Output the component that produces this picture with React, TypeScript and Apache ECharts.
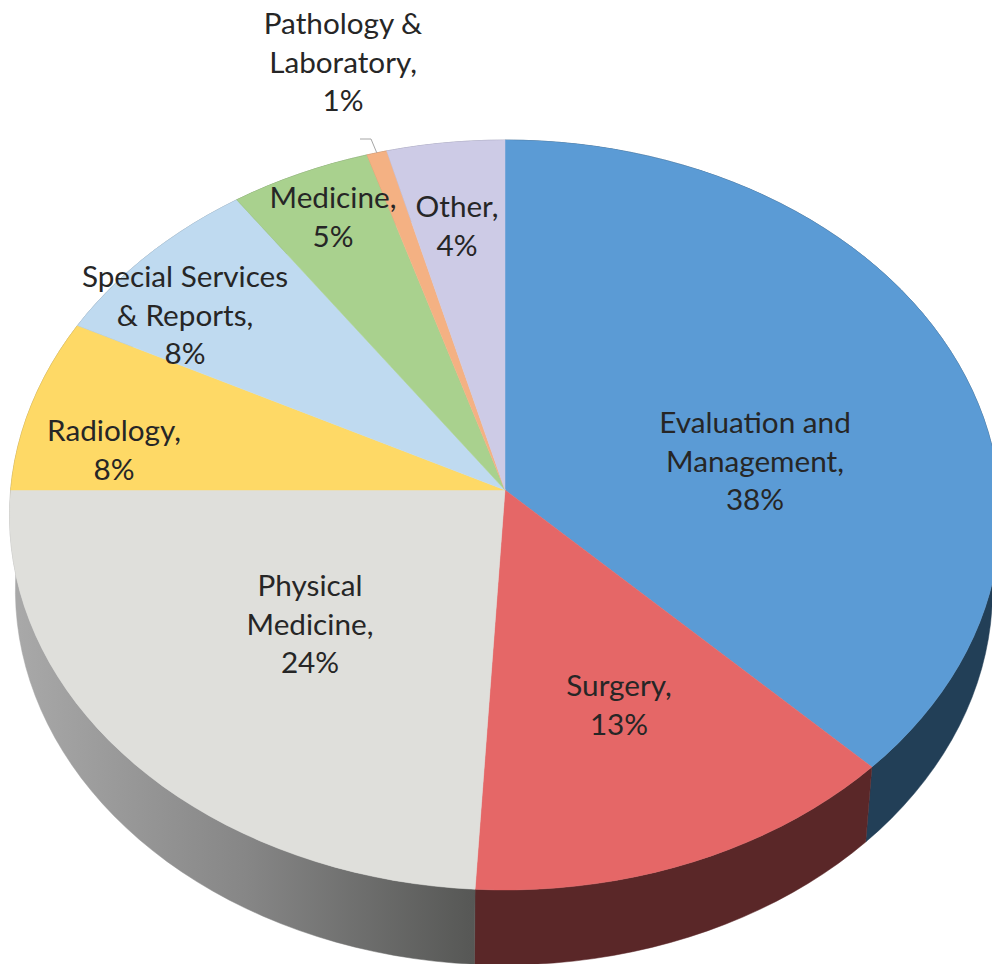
import React, { useEffect, useRef } from "react";
import * as echarts from "echarts";

// Data
const categories = [
  "Evaluation and\nManagement",
  "Surgery",
  "Physical\nMedicine",
  "Radiology",
  "Special Services\n& Reports",
  "Medicine",
  "Pathology &\nLaboratory",
  "Other",
];
const shares = [37.5, 13.4, 24.1, 7.5, 7.8, 4.9, 0.7, 4.1];

// Styles
const topColors = ["#5b9bd5", "#e56767", "#dfdfdb", "#fed966", "#bfdaf0", "#a9d18e", "#f4b183", "#cdcbe6"];
const wallColors = ["#223f57", "#5a2728", "#808080", "#8f7a3a", "#6f7f8c", "#5f7a4f", "#8a6448", "#77768a"];
const labelCenters = [
  [755, 460],
  [619, 704],
  [310, 623],
  [114, 449],
  [185, 314],
  [333, 216],
  [343, 61],
  [457, 225],
];

// Projection of the tilted disc
const APEX_X = 505;
const APEX_Y = 490;
const RX = 494.4;
const RY = 373.3;
const PERSPECTIVE = 1 / 15;
const DEPTH = 75;
const BASE_ORIGIN_X = 430;
const BASE_SCALE = 0.986;
const STEPS = 160;

function project(theta: number): [number, number] {
  const u = Math.sin(theta);
  const v = -Math.cos(theta);
  const d = 1 - PERSPECTIVE * v;
  return [APEX_X + (RX * u) / d, APEX_Y + (RY * v) / d];
}
function lower(p: [number, number]): [number, number] {
  return [BASE_ORIGIN_X + (p[0] - BASE_ORIGIN_X) * BASE_SCALE, p[1] + DEPTH];
}
function arc(a0: number, a1: number): [number, number][] {
  const n = Math.max(2, Math.ceil((STEPS * (a1 - a0)) / (2 * Math.PI)));
  const pts: [number, number][] = [];
  for (let i = 0; i <= n; i++) pts.push(project(a0 + ((a1 - a0) * i) / n));
  return pts;
}

const total = shares.reduce((a, b) => a + b, 0);
const sliceData: number[][] = [];
{
  let acc = 0;
  shares.forEach((s, i) => {
    sliceData.push([(acc / total) * 2 * Math.PI, ((acc + s) / total) * 2 * Math.PI, i]);
    acc += s;
  });
}

const LEADER_INDEX = 6;

export default function App() {
  const ref = useRef<HTMLDivElement>(null);
  useEffect(() => {
    const chart = echarts.init(ref.current!, undefined, { renderer: "svg" });
    const physicalWall = new echarts.graphic.LinearGradient(
      20, 0, 475, 0,
      [
        { offset: 0, color: "#a8a8a8" },
        { offset: 0.5, color: "#868686" },
        { offset: 1, color: "#565755" },
      ],
      true
    );
    const option: any = {
      animation: false,
      backgroundColor: "#ffffff",
      series: [
        {
          type: "custom",
          coordinateSystem: "none",
          z: 1,
          silent: true,
          data: sliceData,
          renderItem: (_p: any, api: any) => {
            const a0 = api.value(0);
            const a1 = api.value(1);
            const i = api.value(2);
            const top = arc(a0, a1);
            const bottom = top.map(lower).reverse();
            const fill = i === 2 ? physicalWall : wallColors[i];
            return {
              type: "polygon",
              shape: { points: [...top, ...bottom] },
              style: { fill, stroke: fill, lineWidth: 0.5 },
            };
          },
        },
        {
          type: "custom",
          coordinateSystem: "none",
          z: 2,
          silent: true,
          data: sliceData,
          renderItem: (_p: any, api: any) => {
            const a0 = api.value(0);
            const a1 = api.value(1);
            const i = api.value(2);
            return {
              type: "polygon",
              shape: { points: [[APEX_X, APEX_Y], ...arc(a0, a1)] },
              style: { fill: topColors[i], stroke: topColors[i], lineWidth: 0.5 },
            };
          },
        },
        {
          type: "custom",
          coordinateSystem: "none",
          z: 3,
          silent: true,
          data: sliceData,
          renderItem: (_p: any, api: any) => {
            const i = api.value(2);
            const [x, y] = labelCenters[i];
            const children: any[] = [
              {
                type: "text",
                x,
                y,
                style: {
                  text: `${categories[i]},\n${Math.round(shares[i])}%`,
                  fontFamily: "Lato",
                  fontSize: 29.7,
                  lineHeight: 38.7,
                  fill: "#262626",
                  align: "center",
                  verticalAlign: "middle",
                },
              },
            ];
            if (i === LEADER_INDEX) {
              const end = project((api.value(0) + api.value(1)) / 2);
              children.push({
                type: "polyline",
                shape: { points: [[360, 139], [371, 139], [end[0], end[1]]] },
                style: { fill: "none", stroke: "#a6a6a6", lineWidth: 1 },
              });
            }
            return { type: "group", children };
          },
        },
      ],
    };
    chart.setOption(option);
    return () => chart.dispose();
  }, []);
  return <div ref={ref} style={{ position: "absolute", left: 0, top: 0, width: 992, height: 964 }} />;
}
